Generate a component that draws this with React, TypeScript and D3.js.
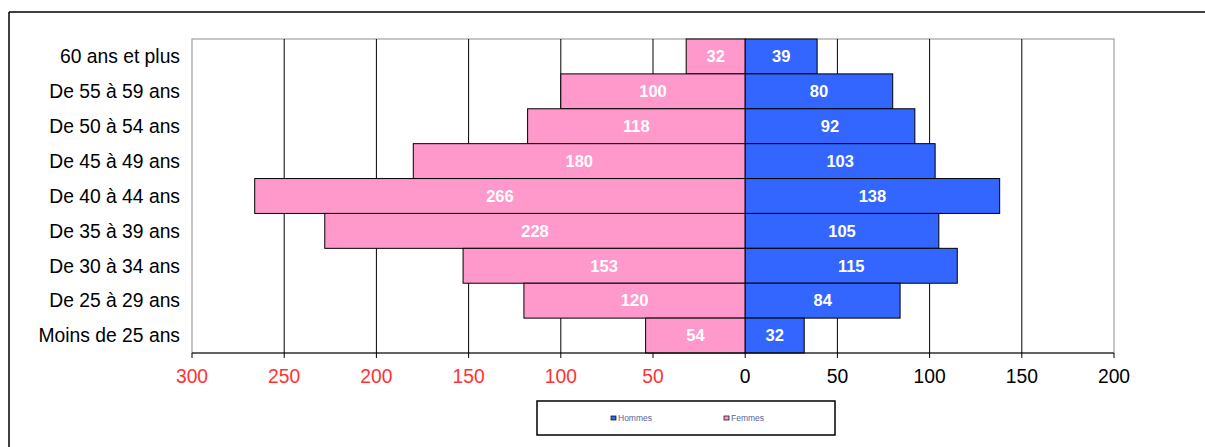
import React from "react";
import * as d3 from "d3";

const categories = [
  "60 ans et plus",
  "De 55 à 59 ans",
  "De 50 à 54 ans",
  "De 45 à 49 ans",
  "De 40 à 44 ans",
  "De 35 à 39 ans",
  "De 30 à 34 ans",
  "De 25 à 29 ans",
  "Moins de 25 ans",
];
const hommes = [39, 80, 92, 103, 138, 105, 115, 84, 32];
const femmes = [32, 100, 118, 180, 266, 228, 153, 120, 54];
const tickValues = [-300, -250, -200, -150, -100, -50, 0, 50, 100, 150, 200];
const seriesNames = ["Hommes", "Femmes"];

const W = 1205;
const H = 447;
const left = 192;
const right = 1114;
const top = 39;
const bottom = 353;
const font = "'Liberation Sans', Arial, sans-serif";

export default function App() {
  const x = d3.scaleLinear().domain([-300, 200]).range([left, right]);
  const y = d3.scaleBand<string>().domain(categories).range([top, bottom]).padding(0);
  const bw = y.bandwidth();

  return (
    <svg
      width={W}
      height={H}
      style={{ position: "absolute", left: 0, top: 0, background: "#fff" }}
      fontFamily={font}
    >
      {/* outer frame */}
      <line x1={9} y1={12} x2={W} y2={12} stroke="#000" strokeWidth={1.5} />
      <line x1={9} y1={12} x2={9} y2={H} stroke="#000" strokeWidth={1.5} />

      {/* plot border */}
      <rect x={left} y={top} width={right - left} height={bottom - top} fill="#fff" stroke="#a0a0a0" strokeWidth={1.2} />

      {/* gridlines */}
      {tickValues
        .filter((t) => t !== -300 && t !== 200 && t !== 0)
        .map((t) => (
          <line key={"g" + t} x1={x(t)} x2={x(t)} y1={top} y2={bottom} stroke="#000" strokeWidth={1} />
        ))}

      {/* bars */}
      {categories.map((c, i) => (
        <g key={c}>
          <rect
            x={x(-femmes[i])}
            y={y(c)}
            width={x(0) - x(-femmes[i])}
            height={bw}
            fill="#FF99CC"
            stroke="#000"
            strokeWidth={1}
          />
          <rect
            x={x(0)}
            y={y(c)}
            width={x(hommes[i]) - x(0)}
            height={bw}
            fill="#3366FF"
            stroke="#000"
            strokeWidth={1}
          />
          <text
            x={(x(-femmes[i]) + x(0)) / 2}
            y={(y(c) as number) + bw / 2}
            dy="0.35em"
            textAnchor="middle"
            fill="#fff"
            fontSize={16.5}
            fontWeight="bold"
          >
            {femmes[i]}
          </text>
          <text
            x={(x(hommes[i]) + x(0)) / 2}
            y={(y(c) as number) + bw / 2}
            dy="0.35em"
            textAnchor="middle"
            fill="#fff"
            fontSize={16.5}
            fontWeight="bold"
          >
            {hommes[i]}
          </text>
          <text
            x={180}
            y={(y(c) as number) + bw / 2}
            dy="0.35em"
            textAnchor="end"
            fill="#000"
            fontSize={19.3}
          >
            {c}
          </text>
        </g>
      ))}

      {/* x axis */}
      <line x1={left} x2={right} y1={bottom} y2={bottom} stroke="#000" strokeWidth={1.2} />
      {tickValues.map((t) => (
        <g key={"t" + t}>
          <line x1={x(t)} x2={x(t)} y1={bottom} y2={bottom + 5} stroke="#000" strokeWidth={1} />
          <text
            x={x(t)}
            y={376}
            dy="0.35em"
            textAnchor="middle"
            fontSize={19.3}
            fill={t < 0 ? "#FF3333" : "#000"}
          >
            {Math.abs(t)}
          </text>
        </g>
      ))}

      {/* legend */}
      <rect x={537} y={401} width={298} height={34} fill="#fff" stroke="#000" strokeWidth={1.5} />
      <rect x={611} y={416} width={5} height={4} fill="#3366FF" stroke="#000" strokeWidth={0.7} />
      <text x={618} y={418} dy="0.35em" fontSize={8.5} fill="#556699">
        {seriesNames[0]}
      </text>
      <rect x={724} y={416} width={5} height={4} fill="#FF99CC" stroke="#000" strokeWidth={0.7} />
      <text x={731} y={418} dy="0.35em" fontSize={8.5} fill="#556699">
        {seriesNames[1]}
      </text>
    </svg>
  );
}
